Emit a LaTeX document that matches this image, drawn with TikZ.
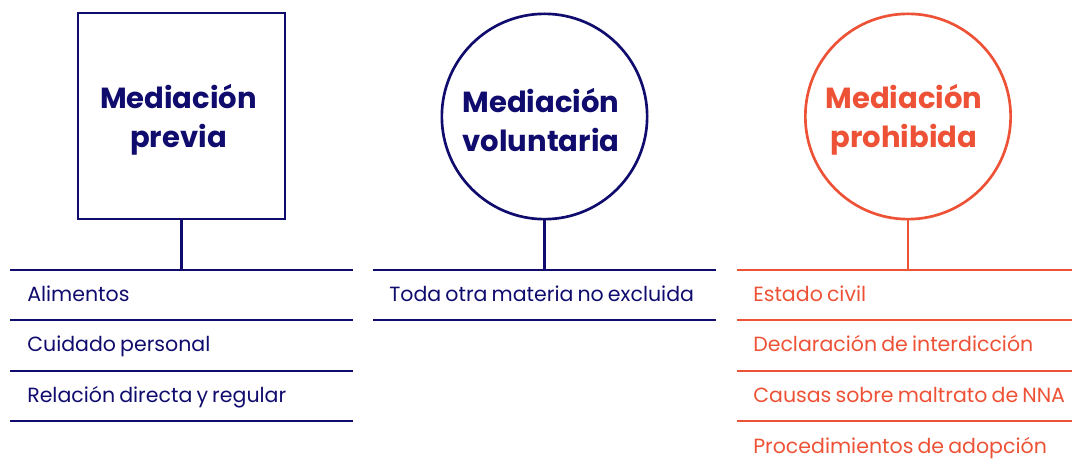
\documentclass[tikz,border=0pt]{standalone}
\usepackage{fontspec}
\setmainfont{Poppins}[WordSpace=0.75]
\definecolor{navy}{HTML}{100C6E}
\definecolor{coral}{HTML}{EE5236}
\begin{document}
\begin{tikzpicture}[x=0.75pt,y=-0.75pt,
  shapebox/.style={inner sep=0pt,line width=2pt},
  title/.style={align=center,font=\fontsize{21.8}{29.3}\selectfont\bfseries,inner sep=0pt},
  item/.style={anchor=base west,font=\fontsize{15.4}{20}\selectfont,inner sep=0pt},
  rule/.style={line width=1.7pt}]
\useasboundingbox (0,0) rectangle (1072,466);
% column 1
\node[shapebox,draw=navy,rectangle,minimum width=155.2pt,minimum height=154.5pt] (sq) at (181.5,116) {};
\node[title,text=navy] (sqt) at (178.5,120) {Mediación\\previa};
\coordinate (a0) at (10,270); \coordinate (a0e) at (353,270);
\coordinate (a1) at (10,320); \coordinate (a1e) at (353,320);
\coordinate (a2) at (10,371); \coordinate (a2e) at (353,371);
\coordinate (a3) at (10,421); \coordinate (a3e) at (353,421);
\draw[rule,navy] (sq.south) -- (sq.south |- a0);
\foreach \i in {0,1,2,3} \draw[rule,navy] (a\i) -- (a\i e);
\node[item,text=navy] (t1) at (27,302) {Alimentos};
\node[item,text=navy] (t2) at (27,352) {Cuidado personal};
\node[item,text=navy] (t3) at (27,403) {Relación directa y regular};
% column 2
\node[shapebox,draw=navy,circle,minimum size=154pt] (c2) at (544.5,116.5) {};
\node[title,text=navy] (c2t) at (541,120) {Mediación\\voluntaria};
\coordinate (b0) at (373,270); \coordinate (b0e) at (716,270);
\coordinate (b1) at (373,320); \coordinate (b1e) at (716,320);
\draw[rule,navy] (c2.south) -- (c2.south |- b0);
\foreach \i in {0,1} \draw[rule,navy] (b\i) -- (b\i e);
\node[item,text=navy] (u1) at (389,302) {Toda otra materia no excluida};
% column 3
\node[shapebox,draw=coral,circle,minimum size=154pt] (c3) at (908,116.5) {};
\node[title,text=coral] (c3t) at (904,120) {Mediación\\prohibida};
\coordinate (d0) at (737,270); \coordinate (d0e) at (1072,270);
\coordinate (d1) at (737,320); \coordinate (d1e) at (1072,320);
\coordinate (d2) at (737,371); \coordinate (d2e) at (1072,371);
\coordinate (d3) at (737,421); \coordinate (d3e) at (1072,421);
\draw[rule,coral] (c3.south) -- (c3.south |- d0);
\foreach \i in {0,1,2,3} \draw[rule,coral] (d\i) -- (d\i e);
\node[item,text=coral] (v1) at (753,302) {Estado civil};
\node[item,text=coral] (v2) at (753,352) {Declaración de interdicción};
\node[item,text=coral] (v3) at (753,403) {Causas sobre maltrato de NNA};
\node[item,text=coral] (v4) at (753,454) {Procedimientos de adopción};
\end{tikzpicture}
\end{document}
